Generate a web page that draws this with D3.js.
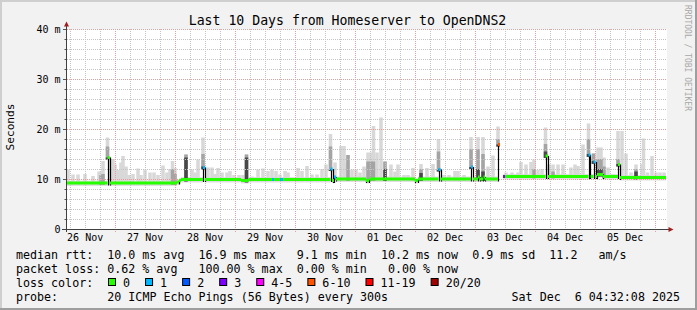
<!DOCTYPE html>
<html>
<head>
<meta charset="utf-8">
<script src="https://cdn.jsdelivr.net/npm/d3@7"></script>
<style>
  body { margin: 0; background: #f2f2f2; }
  svg { display: block; }
  text { font-family: "DejaVu Sans Mono", monospace; fill: #000; white-space: pre; }
</style>
</head>
<body>
<script>
// time window of the graph (10 days)
const startTime = new Date(Date.UTC(2025, 10, 26, 4, 32, 8));
const endTime = new Date(Date.UTC(2025, 11, 6, 4, 32, 8));

const titleText = "Last 10 Days from Homeserver to OpenDNS2";
const yTicks = [0, 10, 20, 30, 40];
const yTickLabels = ["0", "10 m", "20 m", "30 m", "40 m"];

// median rtt, [hours since start, ms, loss class]
const medianPts = [
  [0, 9.2, 0], [16.6, 14.3, 0], [17.4, 9.2, 0], [44.4, 9.4, 0], [45.2, 9.7, 0],
  [46.0, 9.9, 0], [54.8, 12.3, 1], [55.6, 9.9, 0], [70.0, 9.7, 0], [73.0, 9.9, 0],
  [82.4, 9.9, 1], [83.2, 9.9, 0], [85.6, 9.9, 1], [86.8, 9.9, 0], [105.8, 12.0, 1],
  [106.6, 9.7, 0], [107.2, 10.4, 1], [108.0, 10.0, 0], [120.0, 9.7, 0], [121.2, 10.0, 0],
  [139.6, 9.7, 0], [140.8, 10.0, 0], [149.0, 11.9, 1], [149.8, 10.0, 0], [162.0, 12.4, 1],
  [162.8, 10.0, 0], [164.8, 10.4, 0], [165.4, 10.0, 0], [167.0, 10.4, 0], [167.6, 10.0, 0],
  [172.8, 16.9, 5], [173.6, NaN, 0], [174.8, 10.5, 3], [175.6, 10.5, 0], [191.8, 14.6, 0],
  [192.8, 10.5, 0], [209.0, 14.8, 1], [209.8, 10.5, 0], [211.0, 13.4, 1], [211.8, 10.5, 0],
  [212.4, 10.9, 0], [214.8, 10.5, 0], [220.8, 12.9, 0], [221.6, 10.3, 0], [240, 10.3, 0]
];

// smoke columns, [hours since start, top ms, mid ms, dark ms] (0 = none)
const smoke = [
  [0.8, 11.9, 0, 0], [2.8, 10.9, 0, 0], [4.8, 10.9, 0, 0], [7.6, 11.0, 0, 0], [10.8, 10.6, 0, 0],
  [13.2, 11.5, 0, 0], [14.0, 11.5, 10.8, 0], [14.8, 13.6, 11.0, 0], [16.6, 18.3, 16.5, 14.3],
  [18.0, 13.9, 0, 0], [18.8, 14.0, 0, 0], [19.6, 12.9, 0, 0], [20.8, 11.8, 0, 0], [22.0, 13.3, 0, 0],
  [22.8, 14.6, 0, 0], [24.0, 12.5, 0, 0], [25.2, 10.8, 0, 0], [26.8, 11.0, 0, 0], [28.8, 12.1, 0, 0],
  [30.0, 10.8, 0, 0], [31.6, 11.9, 0, 0], [33.6, 11.3, 0, 0], [35.2, 11.3, 0, 0], [36.8, 10.8, 0, 0],
  [38.8, 12.7, 0, 0], [40.4, 11.3, 0, 0], [41.6, 12.0, 0, 0], [42.6, 13.6, 12.0, 0], [43.6, 12.2, 11.0, 0],
  [48.0, 14.9, 14.9, 14.3], [50.4, 11.9, 0, 0], [51.6, 11.3, 0, 0], [52.8, 13.9, 0, 0],
  [54.8, 18.3, 15.0, 12.5], [56.8, 12.3, 0, 0], [58.4, 12.3, 0, 0], [59.6, 11.0, 0, 0], [60.8, 12.2, 0, 0],
  [62.4, 11.3, 0, 0], [64.4, 11.3, 0, 0], [65.6, 11.6, 0, 0], [67.2, 10.8, 0, 0], [69.2, 10.8, 0, 0],
  [70.8, 10.8, 0, 0], [72.2, 14.9, 14.9, 14.3], [74.4, 10.5, 0, 0], [76.8, 11.9, 0, 0], [78.8, 12.1, 0, 0],
  [80.8, 11.6, 0, 0], [82.4, 11.9, 0, 0], [84.0, 11.6, 0, 0], [85.6, 10.9, 0, 0], [87.6, 11.6, 0, 0],
  [88.8, 11.3, 0, 0], [92.8, 12.2, 0, 0], [94.4, 11.6, 0, 0], [96.4, 12.6, 0, 0], [98.4, 10.9, 0, 0],
  [100.4, 10.9, 0, 0], [102.4, 12.0, 0, 0], [104.0, 12.9, 0, 0], [105.8, 19.0, 16.5, 12.0],
  [107.6, 13.3, 0, 0], [110.0, 16.6, 0, 0], [111.2, 16.6, 0, 0], [112.0, 13.3, 0, 0], [112.8, 14.8, 14.8, 0],
  [114.4, 11.9, 0, 0], [116.0, 11.9, 0, 0], [117.6, 11.3, 0, 0], [119.2, 12.5, 0, 0], [120.8, 15.3, 13.5, 0],
  [122.0, 15.3, 13.5, 0], [123.0, 20.6, 13.5, 0], [124.4, 15.3, 0, 0], [126.0, 22.3, 0, 0],
  [127.6, 13.5, 13.5, 12.0], [130.0, 12.9, 0, 0], [131.6, 11.5, 0, 0], [132.8, 12.9, 0, 0], [135.2, 10.8, 0, 0],
  [136.8, 10.8, 0, 0], [138.8, 12.2, 0, 0], [142.0, 13.0, 12.0, 11.2], [144.4, 12.2, 0, 0], [146.8, 13.0, 0, 0],
  [149.0, 18.0, 15.5, 12.0], [151.2, 10.8, 0, 0], [153.2, 10.8, 0, 0], [155.6, 11.6, 0, 0], [156.8, 11.6, 0, 0],
  [159.2, 10.8, 0, 0], [162.0, 18.4, 16.0, 12.4], [164.8, 18.4, 16.0, 12.0], [166.8, 18.4, 15.0, 11.5],
  [168.8, 12.5, 0, 0], [170.8, 14.7, 0, 0], [172.8, 20.5, 18.0, 16.9], [176.0, 11.3, 0, 0], [178.4, 11.3, 0, 0],
  [180.8, 11.3, 0, 0], [182.0, 13.4, 0, 0], [184.0, 12.9, 0, 0], [186.0, 13.4, 0, 0], [187.2, 13.9, 12.0, 0],
  [188.8, 11.8, 0, 0], [190.4, 12.0, 0, 0], [191.8, 20.3, 17.0, 15.5], [193.2, 12.9, 0, 0],
  [194.8, 12.9, 11.5, 0], [196.8, 12.9, 0, 0], [198.8, 12.9, 0, 0], [202.0, 12.3, 0, 0], [203.6, 12.9, 0, 0],
  [204.8, 12.6, 0, 0], [206.8, 16.9, 0, 0], [209.0, 21.1, 18.0, 15.0], [211.0, 15.1, 15.1, 13.6],
  [212.8, 16.3, 14.0, 12.0], [214.0, 16.3, 14.0, 12.0], [215.2, 14.3, 12.5, 0], [216.8, 12.3, 0, 0],
  [218.8, 11.0, 0, 0], [220.8, 19.6, 14.0, 13.0], [222.4, 19.6, 0, 0], [224.0, 15.1, 0, 0], [226.0, 11.3, 0, 0],
  [228.0, 12.9, 12.0, 11.5], [230.4, 13.0, 0, 0], [231.0, 18.1, 0, 0], [232.6, 11.3, 0, 0], [234.4, 14.6, 0, 0],
  [236.0, 11.3, 0, 0], [237.6, 11.3, 0, 0], [239.2, 11.3, 0, 0]
];

const lossLabels = ["0", "1", "2", "3", "4-5", "6-10", "11-19", "20/20"];
const lossColors = ["#26ff00", "#00b8ff", "#0059ff", "#7e00ff", "#ff00ff", "#ff5500", "#ff0000", "#a10000"];

const rttStats = [["10.0", "ms avg"], ["16.9", "ms max"], [" 9.1", "ms min"], ["10.2", "ms now"], ["0.9", "ms sd"], ["11.2", "  am/s"]];
const lossStats = [["0.62", "% avg"], ["100.00", "% max"], ["0.00", "% min"], ["0.00", "% now"]];
const probeText = "20 ICMP Echo Pings (56 Bytes) every 300s";
const stampText = "Sat Dec  6 04:32:08 2025";

const W = 697, H = 310;
const svg = d3.select("body").append("svg").attr("width", W).attr("height", H);

// frame
svg.append("rect").attr("width", W).attr("height", H).attr("fill", "#f2f2f2");
svg.append("rect").attr("x", 0).attr("y", 0).attr("width", W).attr("height", 2).attr("fill", "#cfcfcf");
svg.append("rect").attr("x", 0).attr("y", 0).attr("width", 2).attr("height", H).attr("fill", "#cfcfcf");
svg.append("rect").attr("x", 0).attr("y", H - 2).attr("width", W).attr("height", 2).attr("fill", "#9e9e9e");
svg.append("rect").attr("x", W - 2).attr("y", 0).attr("width", 2).attr("height", H).attr("fill", "#9e9e9e");

const xscale = d3.scaleTime().domain([startTime, endTime]).range([66, 666]);
const yscale = d3.scaleLinear().domain([0, 40]).range([229, 29]);
const hx = (h) => xscale(d3.utcSecond.offset(startTime, Math.round(h * 3600)));

svg.append("rect").attr("x", 67).attr("y", 29).attr("width", 600).attr("height", 200).attr("fill", "#fff");

// median lookup for smoke base
const medianAt = (h) => {
  let v = NaN;
  medianPts.forEach((p) => { if (p[0] <= h) v = p[1]; });
  return v;
};

const plot = svg.append("g");

// thin smoke band around the median
medianPts.forEach((p, i) => {
  if (i === medianPts.length - 1 || !isFinite(p[1])) return;
  const x0 = hx(p[0]), x1 = hx(medianPts[i + 1][0]);
  plot.append("rect").attr("x", x0).attr("width", x1 - x0)
    .attr("y", yscale(p[1] + 0.5)).attr("height", yscale(p[1] - 0.6) - yscale(p[1] + 0.5))
    .attr("fill", "#e0e0e0");
});

// smoke columns
const colW = hx(1.4) - hx(0);
const layers = [[1, "#d8d8d8"], [2, "#a4a4a4"], [3, "#484848"]];
layers.forEach(([k, color]) => {
  plot.append("g").selectAll("rect")
    .data(smoke.filter((s) => s[k] > 0 && isFinite(medianAt(s[0]))))
    .join("rect")
    .attr("x", (s) => hx(s[0]) - colW / 2)
    .attr("width", colW)
    .attr("y", (s) => yscale(s[k]))
    .attr("height", (s) => yscale(medianAt(s[0]) - 0.4) - yscale(s[k]))
    .attr("fill", color);
});

// grid
const grid = svg.append("g").attr("fill", "none");
const minorY = d3.range(2, 40, 2).filter((v) => v % 10 !== 0);
const days = d3.utcDay.range(startTime, endTime);
const minorX = d3.utcHour.every(6).range(startTime, endTime).filter((d) => d.getUTCHours() !== 0);

grid.selectAll(".gy").data(minorY).join("line")
  .attr("x1", 67).attr("x2", 667)
  .attr("y1", (v) => Math.round(yscale(v)) + 0.5).attr("y2", (v) => Math.round(yscale(v)) + 0.5)
  .attr("stroke", "#c4c4c4").attr("stroke-dasharray", "1,1");
grid.selectAll(".gx").data(minorX).join("line")
  .attr("x1", (d) => Math.round(xscale(d)) + 0.5).attr("x2", (d) => Math.round(xscale(d)) + 0.5)
  .attr("y1", 29).attr("y2", 231)
  .attr("stroke", "#c4c4c4").attr("stroke-dasharray", "1,1");
grid.selectAll(".my").data(yTicks.slice(1)).join("line")
  .attr("x1", 67).attr("x2", 667)
  .attr("y1", (v) => Math.round(yscale(v)) + 0.5).attr("y2", (v) => Math.round(yscale(v)) + 0.5)
  .attr("stroke", "#ec9a9a").attr("stroke-dasharray", "1,1");
grid.selectAll(".mx").data(days).join("line")
  .attr("x1", (d) => Math.round(xscale(d)) + 0.5).attr("x2", (d) => Math.round(xscale(d)) + 0.5)
  .attr("y1", 29).attr("y2", 232)
  .attr("stroke", "#ec9a9a").attr("stroke-dasharray", "1,1");

// median line: black jumps, loss-coloured levels
const med = svg.append("g");
medianPts.forEach((p, i) => {
  if (i === 0) return;
  const q = medianPts[i - 1];
  if (!isFinite(p[1]) || !isFinite(q[1]) || Math.abs(p[1] - q[1]) < 0.25) return;
  const x = Math.round(hx(p[0])) + 0.5;
  med.append("line").attr("x1", x).attr("x2", x)
    .attr("y1", yscale(Math.max(p[1], q[1]))).attr("y2", yscale(Math.min(p[1], q[1]) - 0.5))
    .attr("stroke", "#000").attr("stroke-width", 1.2);
});
medianPts.forEach((p, i) => {
  if (i === medianPts.length - 1 || !isFinite(p[1])) return;
  med.append("line")
    .attr("x1", hx(p[0])).attr("x2", hx(medianPts[i + 1][0]))
    .attr("y1", yscale(p[1])).attr("y2", yscale(p[1]))
    .attr("stroke", lossColors[p[2]]).attr("stroke-width", 3);
});

// axes
const yaxis = d3.axisLeft(yscale).tickValues(yTicks).tickFormat((d, i) => yTickLabels[i]).tickSize(0).tickPadding(6);
const ya = svg.append("g").attr("transform", "translate(66.5,0)").call(yaxis);
ya.select(".domain").remove();
ya.selectAll("text").attr("font-family", "DejaVu Sans Mono").attr("font-size", 10).attr("fill", "#000");

const labelDays = d3.utcDay.range(d3.utcDay.floor(startTime), endTime)
  .map((d) => d3.utcHour.offset(d, 12))
  .filter((d) => d >= startTime && d <= endTime);
const xaxis = d3.axisBottom(xscale)
  .tickValues(labelDays)
  .tickFormat(d3.utcFormat("%d %b")).tickSize(0).tickPadding(5);
const xa = svg.append("g").attr("transform", "translate(0,229)").call(xaxis);
xa.select(".domain").remove();
xa.selectAll("text").attr("font-family", "DejaVu Sans Mono").attr("font-size", 10).attr("fill", "#000");

// ticks on the y axis
svg.append("g").selectAll("line").data(d3.range(0, 41, 2)).join("line")
  .attr("x1", (v) => (v % 10 === 0 ? 63 : 64.5)).attr("x2", 67)
  .attr("y1", (v) => Math.round(yscale(v)) + 0.5).attr("y2", (v) => Math.round(yscale(v)) + 0.5)
  .attr("stroke", "#555");

svg.append("line").attr("x1", 66.5).attr("x2", 66.5).attr("y1", 232).attr("y2", 25).attr("stroke", "#404040");
svg.append("line").attr("x1", 62).attr("x2", 669).attr("y1", 229.5).attr("y2", 229.5).attr("stroke", "#404040");
svg.append("path").attr("d", "M64,26.5L69,26.5L66.5,21.5Z").attr("fill", "#a11d1d");
svg.append("path").attr("d", "M668.5,227L668.5,232L673.5,229.5Z").attr("fill", "#a11d1d");

// titles
svg.append("text").attr("x", 347.5).attr("y", 24.5).attr("text-anchor", "middle")
  .attr("font-size", 13.2).text(titleText);
svg.append("text").attr("transform", "translate(13.5,127) rotate(-90)").attr("text-anchor", "middle")
  .attr("font-size", 11.2).text("Seconds");
svg.append("text").attr("transform", "translate(684.5,5) rotate(90)")
  .attr("font-size", 8).style("fill", "#a8a8a8").text("RRDTOOL / TOBI OETIKER");

// legend
const fs = 11.67;
const legend = svg.append("g").attr("font-size", fs);
const rttLine = "median rtt:  " + rttStats.map(([v, u]) => v + " " + u).join("  ");
const lossSep = ["   ", "  ", "   "];
const lossLine = "packet loss: " + lossStats.map(([v, u], i) => v + " " + u + (lossSep[i] || "")).join("");
legend.append("text").attr("x", 16).attr("y", 258.5).text(rttLine);
legend.append("text").attr("x", 16).attr("y", 272.5).text(lossLine);
legend.append("text").attr("x", 16).attr("y", 286.5).text("loss color:");
let bx = 108;
lossLabels.forEach((lab, i) => {
  legend.append("rect").attr("x", bx + 0.5).attr("y", 278.5).attr("width", 7).attr("height", 7)
    .attr("fill", lossColors[i]).attr("stroke", "#000");
  legend.append("text").attr("x", bx + 15).attr("y", 286.5).text(lab);
  bx += (lab.length + 4.28) * 7.02;
});
legend.append("text").attr("x", 16).attr("y", 300.5).text("probe:");
legend.append("text").attr("x", 107.3).attr("y", 300.5).text(probeText);
legend.append("text").attr("x", 680).attr("y", 300.5).attr("text-anchor", "end").text(stampText);
</script>
</body>
</html>
